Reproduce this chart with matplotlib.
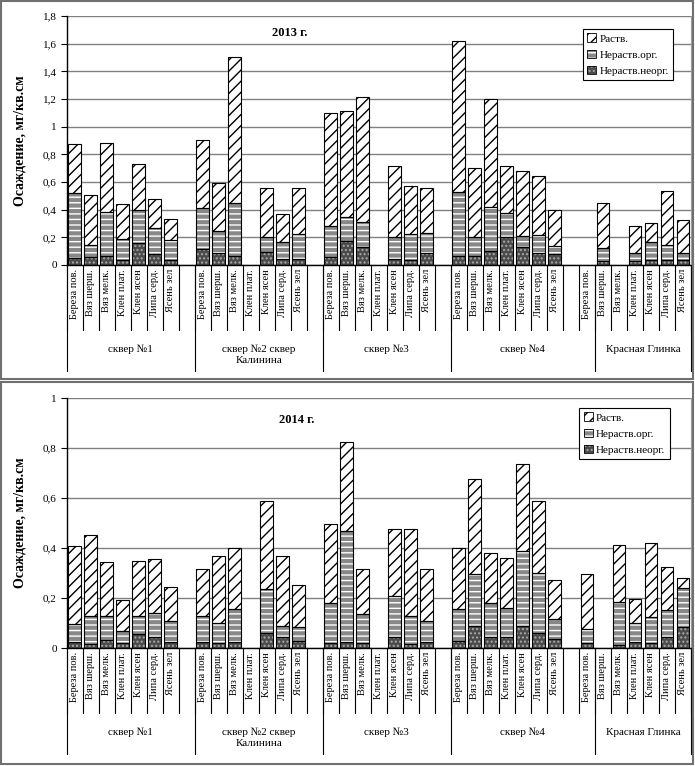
import numpy as np
import matplotlib
matplotlib.use('Agg')
import matplotlib.pyplot as plt
from matplotlib.patches import Patch, Rectangle
from matplotlib.lines import Line2D

plt.rcParams['font.family'] = ['Liberation Serif', 'DejaVu Serif']
plt.rcParams['hatch.linewidth'] = 1.0

nan = np.nan

# Породы деревьев и участки
species = ['Береза пов.', 'Вяз шерш.', 'Вяз мелк.', 'Клен плат.',
           'Клен ясен', 'Липа серд.', 'Ясень зел']
groups = ['сквер №1', 'сквер №2 сквер\nКалинина', 'сквер №3', 'сквер №4',
          'Красная Глинка']

# 2013 г. (по 7 пород в каждом участке)
neorg_2013 = [0.053, 0.055, 0.065, 0.034, 0.161, 0.077, 0.036,
              0.113, 0.089, 0.065, nan, 0.096, 0.046, 0.046,
              0.057, 0.176, 0.130, nan, 0.043, 0.036, 0.089,
              0.065, 0.065, 0.101, 0.205, 0.133, 0.089, 0.080,
              nan, 0.031, nan, 0.030, 0.036, 0.036, 0.036]
org_2013 = [0.465, 0.090, 0.318, 0.152, 0.237, 0.188, 0.144,
            0.297, 0.159, 0.385, nan, 0.109, 0.118, 0.176,
            0.225, 0.169, 0.181, nan, 0.162, 0.186, 0.145,
            0.460, 0.140, 0.321, 0.169, 0.079, 0.128, 0.060,
            nan, 0.089, nan, 0.054, 0.130, 0.109, 0.048]
rastv_2013 = [0.354, 0.361, 0.497, 0.254, 0.335, 0.212, 0.153,
              0.494, 0.347, 1.050, nan, 0.349, 0.202, 0.337,
              0.814, 0.771, 0.901, nan, 0.511, 0.349, 0.322,
              1.095, 0.499, 0.776, 0.342, 0.468, 0.426, 0.260,
              nan, 0.330, nan, 0.196, 0.138, 0.388, 0.241]

# 2014 г.
neorg_2014 = [0.025, 0.015, 0.033, 0.021, 0.055, 0.046, 0.026,
              0.026, 0.020, 0.026, nan, 0.060, 0.044, 0.027,
              0.020, 0.025, 0.020, nan, 0.045, 0.015, 0.025,
              0.027, 0.087, 0.043, 0.043, 0.088, 0.060, 0.037,
              0.020, nan, 0.013, 0.025, 0.020, 0.046, 0.084]
org_2014 = [0.070, 0.113, 0.097, 0.048, 0.075, 0.094, 0.084,
            0.102, 0.080, 0.130, nan, 0.177, 0.043, 0.056,
            0.161, 0.443, 0.115, nan, 0.163, 0.113, 0.083,
            0.129, 0.209, 0.137, 0.117, 0.302, 0.240, 0.079,
            0.058, nan, 0.173, 0.075, 0.104, 0.106, 0.158]
rastv_2014 = [0.315, 0.324, 0.213, 0.123, 0.218, 0.215, 0.136,
              0.188, 0.268, 0.246, nan, 0.353, 0.281, 0.169,
              0.315, 0.356, 0.181, nan, 0.268, 0.348, 0.208,
              0.244, 0.381, 0.200, 0.200, 0.346, 0.290, 0.158,
              0.218, nan, 0.226, 0.096, 0.298, 0.174, 0.038]

series_names = ['Раств.', 'Нераств.орг.', 'Нераств.неорг.']

W, H = 695, 766
fig = plt.figure(figsize=(W / 100, H / 100), dpi=100)

# рамки панелей
for y0, y1 in [(1, 379), (382, 764)]:
    fig.add_artist(Rectangle((1 / W, 1 - y1 / H), 692 / W, (y1 - y0) / H,
                             transform=fig.transFigure, fill=False,
                             edgecolor='#707070', lw=1.5))

# заливка, цвет штриховки, штриховка: раств., нераств.орг., нераств.неорг.
styles = [
    dict(fc='white', hc='black', hatch='///'),
    dict(fc='#888888', hc='white', hatch='---'),
    dict(fc='#4a4a4a', hc='#a8a8a8', hatch='....'),
]


def draw_panel(top_px, bottom_px, rastv, org, neorg, ymax, title, title_pos, leg_pos):
    ax = fig.add_axes([66.5 / W, 1 - bottom_px / H, 624.5 / W, (bottom_px - top_px) / H])
    h_px = bottom_px - top_px
    xs = np.array([8 * g + s for g in range(5) for s in range(7)])
    neorg = np.array(neorg)
    org = np.array(org)
    rastv = np.array(rastv)
    # снизу вверх: неорг., орг., раств.
    order = [(2, neorg, 0), (1, org, neorg), (0, rastv, neorg + org)]
    for st_i, vals, bottom in order:
        st = styles[st_i]
        ax.bar(xs, vals, 0.8, bottom=bottom, color=st['fc'], edgecolor=st['hc'],
               hatch=st['hatch'], linewidth=0, zorder=2)
        ax.bar(xs, vals, 0.8, bottom=bottom, fill=False, edgecolor='black',
               linewidth=0.8, zorder=3)

    ax.set_xlim(-0.5, 38.5)
    ax.set_ylim(0, ymax)
    yt = np.round(np.arange(0, ymax + 0.001, 0.2), 1)
    ax.set_yticks(yt)
    ax.set_yticklabels([f'{v:g}'.replace('.', ',') for v in yt], fontsize=8)
    ax.tick_params(axis='y', direction='out', length=4, width=0.8, pad=3)
    ax.set_xticks([])
    ax.yaxis.grid(True, color='#808080', lw=1)
    ax.set_axisbelow(True)
    ax.spines['top'].set_visible(False)
    ax.spines['right'].set_color('#a0a0a0')
    ax.spines['left'].set_linewidth(1)
    ax.spines['bottom'].set_linewidth(1)

    # подписи категорий в два уровня
    trans = ax.get_xaxis_transform()
    for b in np.arange(-0.5, 39, 1):
        ax.add_line(Line2D([b, b], [0, -65 / h_px], transform=trans, color='black',
                           lw=0.8, clip_on=False))
    bounds = [-0.5, 7.5, 15.5, 23.5, 32.5, 38.5]
    for b in bounds:
        ax.add_line(Line2D([b, b], [0, -106 / h_px], transform=trans, color='black',
                           lw=0.8, clip_on=False))
    for g in range(5):
        for s in range(7):
            ax.text(8 * g + s, -4 / h_px, species[s], transform=trans, rotation=90,
                    ha='center', va='top', fontsize=7.5)
    for g in range(5):
        c = (bounds[g] + bounds[g + 1]) / 2
        ax.text(c, -80 / h_px, groups[g], transform=trans, ha='center', va='top',
                fontsize=8, linespacing=1.3)

    ax.text(title_pos[0], title_pos[1], title, transform=ax.transAxes, ha='center',
            va='center', fontsize=9, fontweight='bold')
    ax.text(-0.075, 0.5, 'Осаждение, мг/кв.см', transform=ax.transAxes, rotation=90,
            ha='center', va='center', fontsize=10, fontweight='bold')

    handles = []
    for st in styles:
        handles.append((Patch(facecolor=st['fc'], edgecolor=st['hc'], hatch=st['hatch'], lw=0),
                        Patch(fill=False, edgecolor='black', lw=0.6)))
    leg = ax.legend(handles, series_names, loc='upper left', bbox_to_anchor=leg_pos,
                    borderaxespad=0, fontsize=8, handlelength=0.8, handleheight=0.8,
                    handletextpad=0.3, labelspacing=0.55, borderpad=0.4,
                    fancybox=False, framealpha=1, edgecolor='black')
    leg.get_frame().set_linewidth(0.8)
    return ax


draw_panel(16, 265, rastv_2013, org_2013, neorg_2013, 1.8, '2013 г.',
           (0.358, 0.932), (0.827, 0.948))
draw_panel(398, 648, rastv_2014, org_2014, neorg_2014, 1.0, '2014 г.',
           (0.369, 0.912), (0.821, 0.96))

fig.savefig('out.png', dpi=100)
